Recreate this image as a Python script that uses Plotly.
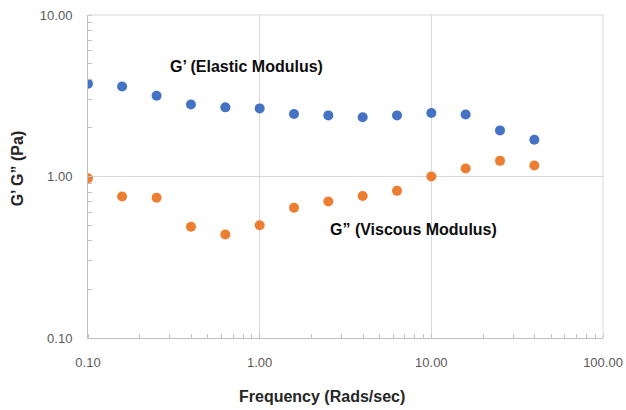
import plotly.graph_objects as go

freq = [0.1, 0.158, 0.251, 0.398, 0.631, 1.0, 1.585, 2.512, 3.981, 6.31, 10.0, 15.85, 25.12, 39.81]
g_elastic = [3.75, 3.61, 3.16, 2.79, 2.68, 2.64, 2.44, 2.39, 2.33, 2.39, 2.47, 2.42, 1.93, 1.69]
g_viscous = [0.976, 0.752, 0.738, 0.489, 0.437, 0.499, 0.64, 0.70, 0.757, 0.815, 1.0, 1.12, 1.25, 1.17]

x_tickvals = [0.1, 1, 10, 100]
x_ticktext = ["0.10", "1.00", "10.00", "100.00"]
y_tickvals = [0.1, 1, 10]
y_ticktext = ["0.10", "1.00", "10.00"]

FONT = "Liberation Sans"

fig = go.Figure()
fig.add_trace(go.Scatter(x=freq, y=g_elastic, mode="markers",
                         marker=dict(color="#4472C4", size=10), name="G'"))
fig.add_trace(go.Scatter(x=freq, y=g_viscous, mode="markers",
                         marker=dict(color="#ED7D31", size=10), name='G"'))

axis_common = dict(
    type="log", automargin=False,
    showgrid=True, gridcolor="#D9D9D9", gridwidth=1,
    showline=True, linecolor="#BFBFBF", linewidth=1, mirror=False,
    ticks="", zeroline=False, ticklabeloverflow="allow",
    tickfont=dict(family=FONT, size=13, color="#595959"),
    minor=dict(ticks="inside", ticklen=4, tickcolor="#BFBFBF", dtick="D1", showgrid=False),
)

fig.update_xaxes(**axis_common, range=[-1, 2], tickvals=x_tickvals, ticktext=x_ticktext,
                 ticklabelstandoff=12)
fig.update_yaxes(**axis_common, range=[-1, 1], tickvals=y_tickvals, ticktext=y_ticktext,
                 ticklabelstandoff=12)

title_font = dict(family=FONT, size=16, color="#262626", weight="bold")
fig.add_annotation(x=0.454, y=-0.18, xref="paper", yref="paper", text="Frequency (Rads/sec)",
                   showarrow=False, xanchor="center", yanchor="middle", font=title_font)
fig.add_annotation(x=-0.138, y=0.525, xref="paper", yref="paper", text="G’ G” (Pa)",
                   showarrow=False, xanchor="center", yanchor="middle", textangle=-90,
                   font=dict(family=FONT, size=16, color="#262626", weight="bold"))

fig.add_annotation(x=-0.079, y=0.681, xref="x", yref="y", text="G’ (Elastic Modulus)",
                   showarrow=False, xanchor="center",
                   font=dict(family=FONT, size=16, color="#0D0D0D", weight="bold"))
fig.add_annotation(x=0.895, y=-0.328, xref="x", yref="y", text="G” (Viscous Modulus)",
                   showarrow=False, xanchor="center",
                   font=dict(family=FONT, size=16, color="#0D0D0D", weight="bold"))

# top and right frame lines
fig.add_shape(type="line", xref="paper", yref="paper", x0=0, x1=1, y0=1, y1=1,
              line=dict(color="#D9D9D9", width=1))
fig.add_shape(type="line", xref="paper", yref="paper", x0=1, x1=1, y0=0, y1=1,
              line=dict(color="#D9D9D9", width=1))

fig.update_layout(
    width=626, height=410,
    margin=dict(l=88, r=23, t=15, b=72),
    plot_bgcolor="white", paper_bgcolor="white",
    showlegend=False,
    font=dict(family=FONT),
)

fig.write_html("out.html", config={"displayModeBar": False},
               post_script="document.body.style.margin='0';")
